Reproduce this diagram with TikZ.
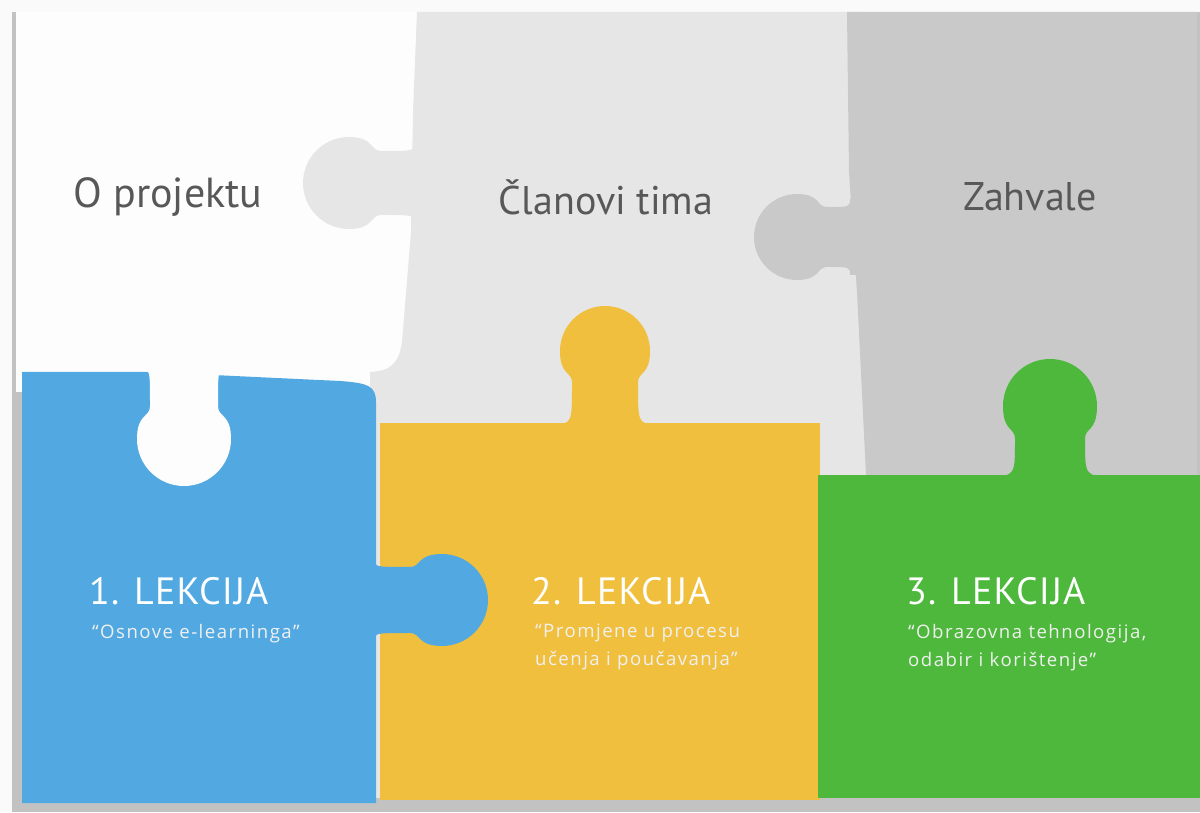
\documentclass[tikz,border=0pt]{standalone}
\usepackage{fontspec}
\setmainfont{PT Sans}
\newfontfamily\lekfont[LetterSpace=3]{PT Sans}
\newfontfamily\subfont[LetterSpace=8]{Open Sans}
\definecolor{pblue}{HTML}{52A9E2}
\definecolor{pyellow}{HTML}{F0BF3E}
\definecolor{pgreen}{HTML}{4DB83B}
\definecolor{pwhite}{HTML}{FDFDFD}
\definecolor{plight}{HTML}{E6E6E6}
\definecolor{pdark}{HTML}{C9C9C9}
\definecolor{pframe}{HTML}{C2C2C2}
\definecolor{hdrtext}{HTML}{585858}
\tikzset{
  pics/ptab/.style n args={5}{code={
    \fill[#5] (-#1,-8) -- (-#1,0) .. controls (-#2,0) and (-#2,0) .. (-#2,#3-0.7*#4)
      .. controls (-#2,#3-0.45*#4) and (-#4,#3-0.55*#4) .. (-#4,#3)
      .. controls (-#4,#3+0.552*#4) and (-0.552*#4,#3+#4) .. (0,#3+#4)
      .. controls (0.552*#4,#3+#4) and (#4,#3+0.552*#4) .. (#4,#3)
      .. controls (#4,#3-0.55*#4) and (#2,#3-0.45*#4) .. (#2,#3-0.7*#4)
      .. controls (#2,0) and (#2,0) .. (#1,0) -- (#1,-8) -- cycle;
  }},
  hdr/.style={text=hdrtext, font=\fontsize{40}{48}\selectfont, inner sep=0pt},
  lek/.style={text=white, font=\lekfont\fontsize{38}{46}\selectfont, inner sep=0pt, anchor=base west},
  sub/.style={text=white!94!black, font=\subfont\fontsize{18.6}{28}\selectfont, inner sep=0pt, anchor=north west, align=left}
}
\begin{document}
\begin{tikzpicture}[x=1pt,y=1pt]
\useasboundingbox (0,0) rectangle (1200,812);
% background and frame
\fill[white!98!black] (0,0) rectangle (1200,812);
\fill[pframe] (12,0) rectangle (1200,800);
% piece A (white)
\fill[pwhite] (16,420) rectangle (422,800);
% piece B (light gray)
\fill[plight] (417,800) -- (870,800) -- (880,300) -- (818,300) -- (818,14) -- (370,14) -- (370,440)
  .. controls (392,441) and (399,450) .. (402,470) -- (411,580) -- (413,700) -- cycle;
\path (414,629) pic {ptab={40}{32}{65}{46}{plight, rotate=90}};
% piece Z (darker gray)
\fill[pdark] (847,800) -- (1197,800) -- (1197,300) -- (866,300) -- (866,337) -- (857,520) -- (849,640) -- cycle;
\path (850,575) pic {ptab={38}{30}{53}{43}{pdark, rotate=90}};
% yellow piece
\fill[pyellow] (380,12) rectangle (820,389);
\path (605,388) pic {ptab={52}{33}{73}{45}{pyellow}};
% green piece
\fill[pgreen] (818,14) rectangle (1200,337);
\path (1050,336) pic {ptab={60}{35}{70}{47}{pgreen}};
% blue piece
\fill[pblue] (22,9) -- (22,440) -- (150,440) -- (340,431)
  .. controls (368,429) and (376,426) .. (376,410) -- (376,9) -- cycle;
\path (375,212) pic {ptab={40}{33}{67}{46}{pblue, rotate=-90}};
% tab of A into blue
\path (184,441) pic {ptab={40}{34}{68}{47}{pwhite, rotate=180}};
% headers
\node[hdr, font=\fontsize{42}{48}\selectfont] (h1) at (168,615) {O projektu};
\node[hdr] (h2) at (606,615) {Članovi tima};
\node[hdr] (h3) at (1030,615) {Zahvale};
% lessons
\node[lek] (l1) at (89,207) {1. LEKCIJA};
\node[sub] (s1) at (92,188) {“Osnove e-learninga”};
\node[lek] (l2) at (531,207) {2. LEKCIJA};
\node[sub] (s2) at (535,188) {“Promjene u procesu\\učenja i poučavanja”};
\node[lek] (l3) at (906,207) {3. LEKCIJA};
\node[sub] (s3) at (908,188) {“Obrazovna tehnologija,\\odabir i korištenje”};
\end{tikzpicture}
\end{document}
